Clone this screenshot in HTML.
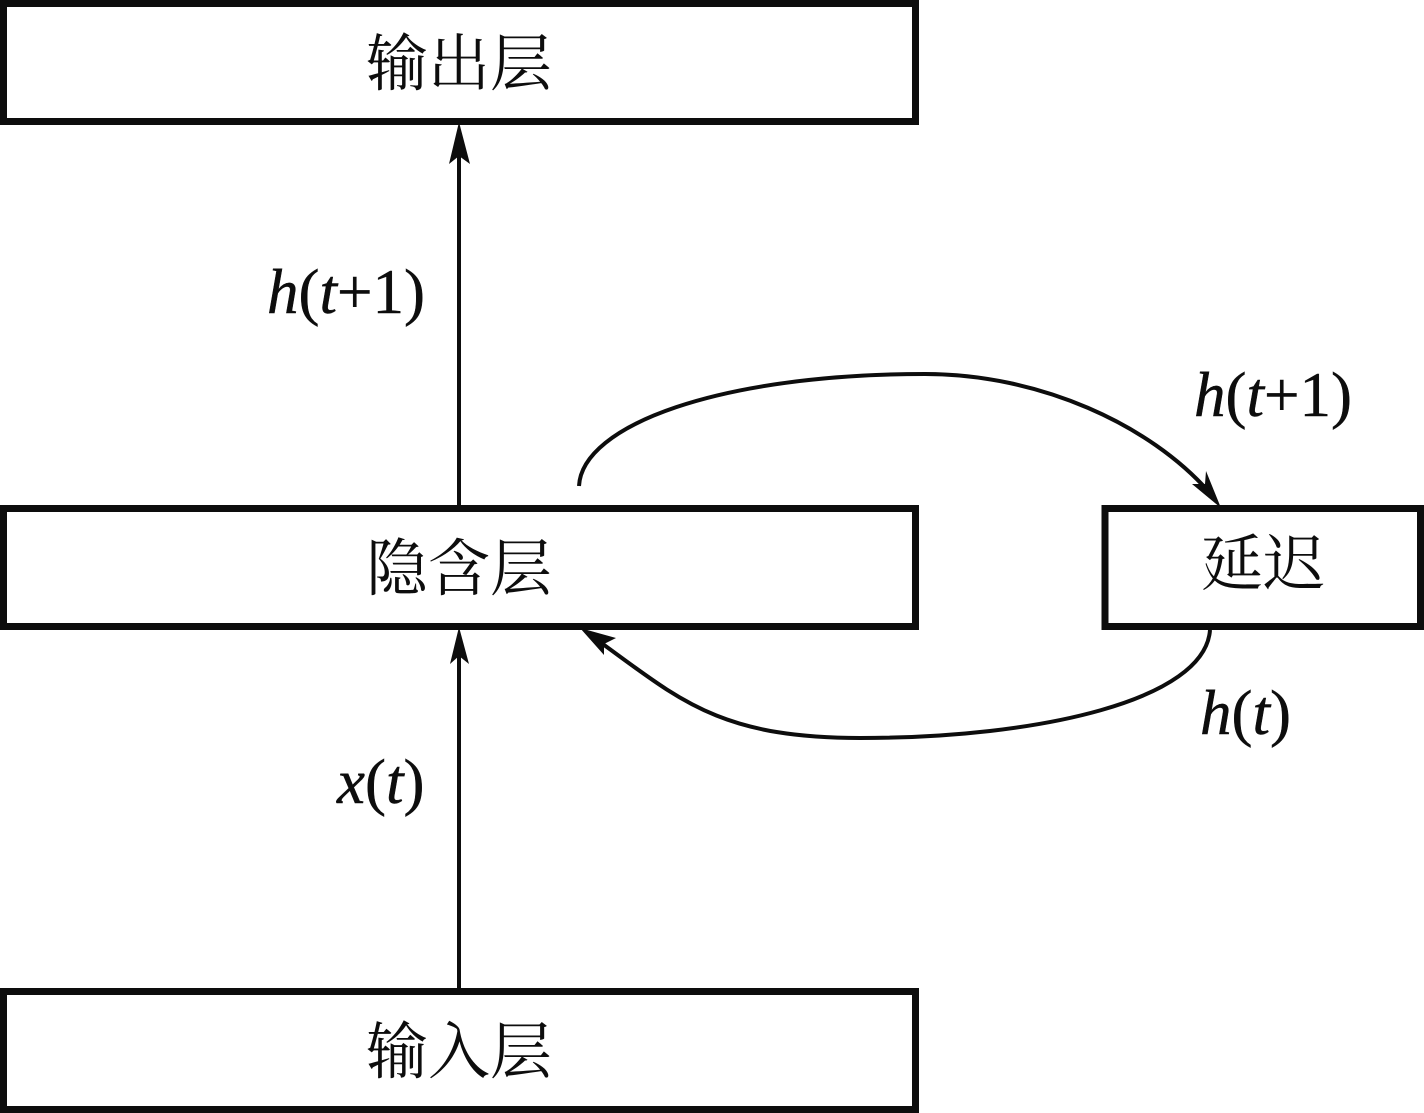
<!DOCTYPE html>
<html>
<head>
<meta charset="utf-8">
<style>
html,body{margin:0;padding:0;background:#fff;width:1424px;height:1113px;overflow:hidden}
svg{display:block}
.cjk{font-family:"Noto Serif CJK SC","Liberation Serif",serif;font-size:62px;fill:#0d0d0d;text-anchor:middle}
.m{font-family:"Liberation Serif",serif;font-size:63px;fill:#0d0d0d;stroke:#0d0d0d;stroke-width:.5}
.i{font-style:italic}
</style>
</head>
<body>
<svg width="1424" height="1113" viewBox="0 0 1424 1113" xmlns="http://www.w3.org/2000/svg">
<g fill="none" stroke="#0d0d0d" stroke-width="7">
<rect x="3.5" y="3.5" width="912" height="118"/>
<rect x="3.5" y="508.5" width="912" height="118"/>
<rect x="3.5" y="991.5" width="912" height="118"/>
<rect x="1105" y="508.5" width="315.5" height="118"/>
</g>
<g fill="none" stroke="#0d0d0d" stroke-width="4">
<path d="M459 505V145"/>
<path d="M459 988V650"/>
<path d="M579 486C582 425 720 374 925 374C1040 374 1150 425 1209 492"/>
<path d="M1210 630C1205 700 1040 738 860 738C720 738 680 700 600 642"/>
</g>
<g fill="#0d0d0d">
<path d="M459 122L470 164L459 156L449 164Z"/>
<path d="M459 627L469 664L459 656L450 664Z"/>
<path d="M1221 508L1192 484L1205 484L1206 471Z"/>
<path d="M580 628L616 638L604 644L604 655Z"/>
</g>
<text class="cjk" x="459" y="85">输出层</text>
<text class="cjk" x="459" y="590">隐含层</text>
<text class="cjk" x="459" y="1073">输入层</text>
<text class="cjk" x="1263" y="585">延迟</text>
<text class="m" x="267" y="313"><tspan class="i">h</tspan>(<tspan class="i">t</tspan>+1)</text>
<text class="m" x="1194" y="416"><tspan class="i">h</tspan>(<tspan class="i">t</tspan>+1)</text>
<text class="m" x="1200" y="734"><tspan class="i">h</tspan>(<tspan class="i">t</tspan>)</text>
<text class="m" x="337" y="803"><tspan class="i">x</tspan>(<tspan class="i">t</tspan>)</text>
</svg>
</body>
</html>
